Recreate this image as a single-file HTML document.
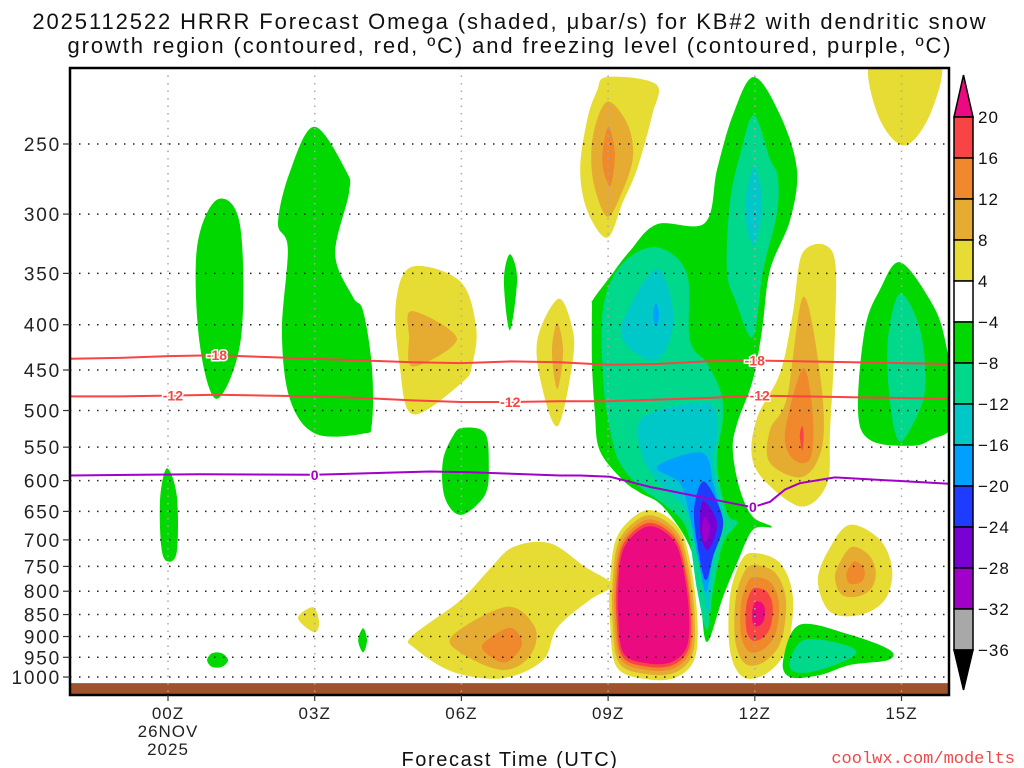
<!DOCTYPE html>
<html><head><meta charset="utf-8"><title>HRRR Omega time-height</title>
<style>
html,body{margin:0;padding:0;background:#fff;}
svg{display:block;font-family:"Liberation Sans",sans-serif;}
</style></head>
<body>
<svg id="chart" width="1024" height="768" viewBox="0 0 1024 768" xmlns="http://www.w3.org/2000/svg">
<text x="510" y="29" text-anchor="middle" font-size="22" letter-spacing="1.9" fill="#111">2025112522 HRRR Forecast Omega (shaded, μbar/s) for KB#2 with dendritic snow</text>
<text x="510" y="53" text-anchor="middle" font-size="22" letter-spacing="1.9" fill="#111">growth region (contoured, red, ºC) and freezing level (contoured, purple, ºC)</text>
<defs><clipPath id="plotclip"><rect x="70" y="68" width="879" height="627"/></clipPath></defs>
<g id="fields" clip-path="url(#plotclip)"></g>
<g id="grid"></g>
<g id="lines" clip-path="url(#plotclip)"></g>
<g id="axes"></g>
<g id="cbar"></g>
<text x="510" y="766" text-anchor="middle" font-size="20" letter-spacing="1.6" fill="#111">Forecast Time (UTC)</text>
<text x="1015" y="763" text-anchor="end" font-size="17" fill="#f04848" font-family="Liberation Mono, monospace">coolwx.com/modelts</text>
</svg>
<script>
const NS="http://www.w3.org/2000/svg";
// ---------- data ----------
const pressureTicks=[250,300,350,400,450,500,550,600,650,700,750,800,850,900,950,1000];
const hourTicks=[0,3,6,9,12,15];
const hourTickLabels=["00Z","03Z","06Z","09Z","12Z","15Z"];
const cbarLevels=[20,16,12,8,4,-4,-8,-12,-16,-20,-24,-28,-32,-36];
const cbarColors=["#f84444","#f0882c","#e6ac32","#e6dc34","#ffffff","#00d800","#00d88c","#00c8c8","#00a0ff","#1e3cff","#7800d2","#a000c8","#a8a8a8"];
const levelColor={"20":"#ec0a80","16":"#f84444","12":"#f0882c","8":"#e6ac32","4":"#e6dc34","-4":"#00d800","-8":"#00d88c","-12":"#00c8c8","-16":"#00a0ff","-20":"#1e3cff","-24":"#7800d2","-28":"#a000c8"};

// temperature contours (hour, hPa)
const dgzHours=[-2,-1,0,1,2,3,4,5,6,7,8,9,10,11,12,13,14,15,16];
const minus18P=[437,436,434,433,435,437,439,441,442,440,441,444,443,440,439,440,441,442,443];
const minus12P=[482,482,481,480,481,482,484,487,489,489,488,488,486,484,481,482,483,484,485];
const freezeHours=[-2,0.65,3,5.36,6.18,8.02,8.43,9.04,9.86,10.88,11.7,11.96,12.31,12.62,12.92,13.64,16];
const freezeP=[592,590,591,586,587,592,592,594,610,626,639,643,634,614,604,595,605];

// omega regions: [hour, hPa] polygons
const greenA=[[1.0,289],[1.47,308],[1.49,415],[1.0,485],[0.65,421],[0.59,328]];
const greenB=[[2.99,239],[3.64,268],[3.70,284],[3.42,333],[3.78,372],[3.99,386],[4.17,446],[4.17,517],[3.99,531],[3.01,531],[2.49,485],[2.33,408],[2.45,328],[2.25,307],[2.49,269]];
const greenC=[[-0.02,581],[0.18,624],[0.18,722],[-0.02,740],[-0.14,711],[-0.16,627]];
const greenD=[[0.8,957],[0.9,940],[1.1,940],[1.23,957],[1.1,974],[0.9,974]];
const yellowE=[[2.66,858],[2.97,834],[3.09,867],[2.99,890]];
const greenF=[[3.99,881],[4.07,909],[3.99,938],[3.89,909]];
const greenG=[[6.03,523],[6.48,530],[6.56,576],[6.48,623],[5.99,656],[5.66,627],[5.62,571],[5.83,534]];
const greenH=[[6.99,333],[7.14,355],[6.99,406],[6.87,357]];
const yellowI=[[4.99,344],[5.97,357],[6.30,402],[6.22,444],[6.01,465],[5.01,505],[4.74,446],[4.66,378]];
const goldI=[[4.99,386],[5.91,415],[5.01,446],[4.93,413]];
const yellowJ=[[7.98,374],[8.26,402],[8.28,438],[7.98,520],[7.67,476],[7.55,417]];
const goldJ=[[7.96,398],[8.08,429],[7.96,473],[7.85,429]];
const yellowK=[[8.98,210],[9.98,214],[9.90,232],[9.59,267],[9.30,291],[8.98,319],[8.57,297],[8.43,267],[8.57,235],[8.77,218]];
const goldK=[[8.98,224],[9.39,237],[9.51,258],[9.30,282],[8.98,302],[8.69,274],[8.69,245]];
const orangeK=[[9.0,239],[9.14,256],[9.04,279],[8.88,261]];
const yellowL=[[14.40,200],[15.75,200],[15.62,229],[15.07,251],[14.52,232]];
const greenM=[[8.69,375],[9.04,353],[9.45,330],[10.0,308],[10.98,307],[11.23,267],[11.55,232],[11.98,210],[12.52,232],[12.86,267],[12.72,305],[12.31,347],[12.15,405],[11.96,462],[11.64,517],[11.55,555],[11.70,615],[11.96,659],[12.35,677],[11.96,682],[11.64,743],[11.35,812],[11.02,913],[10.88,812],[10.67,713],[10.12,642],[9.65,619],[9.30,599],[8.83,555],[8.73,503],[8.67,442],[8.67,382]];
const tealM=[[8.90,382],[9.30,341],[10.0,327],[10.61,350],[10.67,416],[11.02,442],[11.29,474],[11.35,509],[11.23,573],[11.43,652],[11.64,670],[11.35,706],[11.15,797],[11.02,885],[10.82,797],[10.61,682],[10.20,642],[9.65,610],[9.24,573],[9.04,526],[8.90,462]];
const tealTower=[[11.98,232],[12.31,260],[12.47,272],[12.45,300],[12.17,347],[11.96,413],[11.60,375],[11.43,347],[11.49,291],[11.70,257]];
const cyanTower=[[11.98,265],[12.15,291],[11.98,326],[11.80,297]];
const cyanUpper=[[10.0,346],[10.33,386],[10.20,425],[9.86,439],[9.30,416],[9.39,387]];
const blueSpot=[[9.98,378],[10.04,390],[9.98,402],[9.92,390]];
const cyanLower=[[9.71,509],[11.02,490],[11.23,526],[11.15,573],[11.29,636],[11.35,670],[11.15,743],[11.04,847],[10.88,743],[10.61,652],[10.06,604],[9.71,564]];
const blueLower=[[10.0,579],[10.92,558],[11.15,604],[11.29,670],[11.12,743],[11.0,803],[10.84,737],[10.67,659],[10.47,604]];
const darkBlue=[[10.98,602],[11.35,665],[11.15,730],[10.98,776],[10.78,682],[10.78,633]];
const purpleCore=[[10.94,633],[11.23,670],[11.04,719],[10.88,682]];
const violetCore=[[10.98,659],[11.08,682],[10.98,705],[10.92,682]];
const yellowBig=[[4.99,899],[5.97,820],[6.58,755],[7.06,713],[7.81,706],[8.53,751],[9.08,787],[8.63,818],[7.96,880],[7.67,957],[6.85,1003],[5.83,987],[5.05,928]];
const goldBig=[[5.81,899],[6.93,833],[7.51,880],[7.40,947],[6.85,982],[6.03,942]];
const orangeBig=[[6.44,918],[6.99,880],[7.24,918],[6.93,962],[6.58,947]];
const pinkBlob=[[9.18,695],[9.65,652],[10.06,652],[10.47,682],[10.67,737],[10.82,847],[10.78,950],[10.41,1000],[9.80,1006],[9.18,975],[9.04,869],[9.04,777]];
const pinkLevels=[4,8,12,16,20];
const redBlob=[[11.96,724],[12.51,743],[12.78,812],[12.66,925],[12.25,990],[11.76,1000],[11.49,932],[11.49,812],[11.70,743]];
const redBlobLevels=[4,8,12,16,20];
const yellowN=[[12.99,331],[13.60,332],[13.64,405],[13.54,526],[13.48,604],[12.97,642],[12.25,604],[11.94,564],[12.05,509],[12.52,453],[12.78,388]];
const goldN=[[12.99,372],[13.33,453],[13.39,544],[12.99,594],[12.31,573],[12.31,526],[12.66,483]];
const orangeN=[[12.99,448],[13.19,509],[13.13,567],[12.78,567],[12.62,529]];
const redN=[[12.97,521],[13.0,533],[12.97,555],[12.92,533]];
const yellowO=[[13.95,673],[14.56,700],[14.81,757],[14.66,818],[14.15,851],[13.54,844],[13.29,777],[13.54,714]];
const yellowOLevels=[4,8,12];
const greenP=[[12.92,873],[13.95,896],[14.76,932],[14.72,957],[13.95,969],[13.33,995],[12.72,1000],[12.58,957]];
const tealP=[[13.03,907],[13.85,920],[14.05,945],[13.33,982],[12.82,987],[12.72,957]];
const greenQ=[[14.97,340],[15.58,375],[15.89,416],[16.1,512],[15.58,540],[15.17,548],[14.36,540],[14.11,500],[14.25,405],[14.56,365]];
const tealQ=[[14.97,369],[15.38,405],[15.48,474],[15.17,526],[14.93,540],[14.76,487],[14.72,416]];

// ---------- scales ----------
function X(h){return 168+h*48.9;}
function Y(p){return 144+384.5*Math.log(p/250);}
const plotL=70,plotR=949,plotT=68,plotB=695;

function smoothPath(pts){
  const n=pts.length;let d="M"+pts[0][0].toFixed(1)+","+pts[0][1].toFixed(1);
  for(let i=0;i<n;i++){
    const p0=pts[(i-1+n)%n],p1=pts[i],p2=pts[(i+1)%n],p3=pts[(i+2)%n];
    const c1x=p1[0]+(p2[0]-p0[0])/6,c1y=p1[1]+(p2[1]-p0[1])/6;
    const c2x=p2[0]-(p3[0]-p1[0])/6,c2y=p2[1]-(p3[1]-p1[1])/6;
    d+="C"+c1x.toFixed(1)+","+c1y.toFixed(1)+" "+c2x.toFixed(1)+","+c2y.toFixed(1)+" "+p2[0].toFixed(1)+","+p2[1].toFixed(1);
  }
  return d+"Z";
}
const fields=document.getElementById("fields");
function region(data,level,name,scale){
  let pts=data.map(d=>[X(d[0]),Y(d[1])]);
  if(scale!==undefined&&scale!==1){
    const cx=pts.reduce((a,b)=>a+b[0],0)/pts.length,cy=pts.reduce((a,b)=>a+b[1],0)/pts.length;
    pts=pts.map(q=>[cx+(q[0]-cx)*scale,cy+(q[1]-cy)*scale]);
  }
  const el=document.createElementNS(NS,"path");
  el.setAttribute("d",smoothPath(pts));
  el.setAttribute("fill",levelColor[String(level)]);
  
  
  fields.appendChild(el);
}
// ground
const ground=document.createElementNS(NS,"rect");
ground.setAttribute("x",plotL);ground.setAttribute("y",Y(1016));ground.setAttribute("width",plotR-plotL);ground.setAttribute("height",plotB-Y(1016));
ground.setAttribute("fill","#a0522d");


fields.appendChild(ground);

region(greenA,-4,"ascent-01z");
region(greenB,-4,"ascent-03z");
region(greenC,-4,"ascent-00z-low");
region(greenD,-4,"ascent-01z-sfc");
region(yellowE,4,"descent-03z-low");
region(greenF,-4,"ascent-04z-low");
region(greenG,-4,"ascent-06z-mid");
region(greenH,-4,"ascent-07z-sliver");
region(yellowI,4,"descent-05z");region(goldI,8,"descent-05z-core");
region(yellowJ,4,"descent-08z");region(goldJ,8,"descent-08z-core");
region(yellowK,4,"descent-09z-upper");region(goldK,8,"descent-09z-upper-8");region(orangeK,12,"descent-09z-upper-12");
region(yellowL,4,"descent-15z-upper");
region(greenM,-4,"ascent-main");
region(tealM,-8,"ascent-main-8");
region(tealTower,-8,"ascent-tower-8");
region(cyanTower,-12,"ascent-tower-12");
region(cyanUpper,-12,"ascent-main-12-upper");
region(blueSpot,-16,"ascent-main-16-spot");
region(cyanLower,-12,"ascent-main-12-lower");
region(blueLower,-16,"ascent-main-16");
region(darkBlue,-20,"ascent-main-20");
region(purpleCore,-24,"ascent-main-24");
region(violetCore,-28,"ascent-main-28");
region(yellowBig,4,"descent-07z-low");region(goldBig,8,"descent-07z-low-8");region(orangeBig,12,"descent-07z-low-12");
[1,0.94,0.89,0.85,0.81].forEach((s,i)=>region(pinkBlob,pinkLevels[i],"descent-10z-"+pinkLevels[i],s));
[1,0.8,0.6,0.42,0.2].forEach((s,i)=>region(redBlob,redBlobLevels[i],"descent-12z-"+redBlobLevels[i],s));
region(yellowN,4,"descent-13z");region(goldN,8,"descent-13z-8");region(orangeN,12,"descent-13z-12");region(redN,16,"descent-13z-16");
[1,0.55,0.25].forEach((s,i)=>region(yellowO,yellowOLevels[i],"descent-14z-"+yellowOLevels[i],s));
region(greenP,-4,"ascent-13z-low");region(tealP,-8,"ascent-13z-low-8");
region(greenQ,-4,"ascent-15z");region(tealQ,-8,"ascent-15z-8");

// ---------- grid ----------
const grid=document.getElementById("grid");
pressureTicks.forEach(p=>{
  const l=document.createElementNS(NS,"line");
  l.setAttribute("x1",plotL);l.setAttribute("x2",plotR);l.setAttribute("y1",Y(p));l.setAttribute("y2",Y(p));
  l.setAttribute("stroke","#222");l.setAttribute("stroke-width","1.5");l.setAttribute("stroke-dasharray","1.5 7.5");
  
  
  grid.appendChild(l);
});
hourTicks.forEach(h=>{
  const l=document.createElementNS(NS,"line");
  l.setAttribute("x1",X(h));l.setAttribute("x2",X(h));l.setAttribute("y1",plotT);l.setAttribute("y2",plotB);
  l.setAttribute("stroke","#aaa");l.setAttribute("stroke-width","1.5");l.setAttribute("stroke-dasharray","1.5 6");
  
  
  grid.appendChild(l);
});

// ---------- contour lines ----------
const lines=document.getElementById("lines");
function polyline(hs,ps,color,name){
  const pts=hs.map((h,i)=>X(h).toFixed(1)+","+Y(ps[i]).toFixed(1)).join(" ");
  const el=document.createElementNS(NS,"polyline");
  el.setAttribute("points",pts);el.setAttribute("fill","none");el.setAttribute("stroke",color);el.setAttribute("stroke-width","2");
  
  
  lines.appendChild(el);
}
function interp(hs,ps,h){for(let i=0;i<hs.length-1;i++){if(h>=hs[i]&&h<=hs[i+1]){const t=(h-hs[i])/(hs[i+1]-hs[i]);return ps[i]*(1-t)+ps[i+1]*t;}}return ps[ps.length-1];}
function clabel(hs,ps,h,txt,color,name){
  const x=X(h),y=Y(interp(hs,ps,h));
  const t=document.createElementNS(NS,"text");
  t.setAttribute("x",x);t.setAttribute("y",y+5);t.setAttribute("text-anchor","middle");t.setAttribute("font-size","14");t.setAttribute("font-weight","bold");t.setAttribute("fill",color);
  t.setAttribute("stroke","#fff");t.setAttribute("stroke-width","3");t.setAttribute("paint-order","stroke");
  t.textContent=txt;
  
  
  lines.appendChild(t);
}
polyline(dgzHours,minus18P,"#f84444","minus18-contour");
polyline(dgzHours,minus12P,"#f84444","minus12-contour");
polyline(freezeHours,freezeP,"#a000c8","freezing-level-contour");
clabel(dgzHours,minus18P,1.0,"-18","#f84444","minus18-label-1");
clabel(dgzHours,minus18P,12.0,"-18","#f84444","minus18-label-2");
clabel(dgzHours,minus12P,0.1,"-12","#f84444","minus12-label-1");
clabel(dgzHours,minus12P,7.0,"-12","#f84444","minus12-label-2");
clabel(dgzHours,minus12P,12.1,"-12","#f84444","minus12-label-3");
clabel(freezeHours,freezeP,3.0,"0","#a000c8","freezing-label-1");
clabel(freezeHours,freezeP,11.96,"0","#a000c8","freezing-label-2");

// ---------- axes ----------
const axes=document.getElementById("axes");
const frame=document.createElementNS(NS,"rect");
frame.setAttribute("x",plotL);frame.setAttribute("y",plotT);frame.setAttribute("width",plotR-plotL);frame.setAttribute("height",plotB-plotT);
frame.setAttribute("fill","none");frame.setAttribute("stroke","#000");frame.setAttribute("stroke-width","2.5");


axes.appendChild(frame);
pressureTicks.forEach(p=>{
  const tk=document.createElementNS(NS,"line");
  tk.setAttribute("x1",plotL-7);tk.setAttribute("x2",plotL);tk.setAttribute("y1",Y(p));tk.setAttribute("y2",Y(p));tk.setAttribute("stroke","#333");tk.setAttribute("stroke-width","1.2");
  
  
  axes.appendChild(tk);
  const t=document.createElementNS(NS,"text");
  t.setAttribute("x",plotL-9);t.setAttribute("y",Y(p)+7);t.setAttribute("text-anchor","end");t.setAttribute("font-size","19");t.setAttribute("letter-spacing","1.8");t.setAttribute("fill","#222");
  t.textContent=String(p);
  
  
  axes.appendChild(t);
});
hourTicks.forEach((h,i)=>{
  const tk=document.createElementNS(NS,"line");
  tk.setAttribute("x1",X(h));tk.setAttribute("x2",X(h));tk.setAttribute("y1",plotB);tk.setAttribute("y2",plotB+6);tk.setAttribute("stroke","#333");tk.setAttribute("stroke-width","1.2");
  
  
  axes.appendChild(tk);
  const t=document.createElementNS(NS,"text");
  t.setAttribute("x",X(h));t.setAttribute("y",719);t.setAttribute("text-anchor","middle");t.setAttribute("font-size","17");t.setAttribute("letter-spacing","1");t.setAttribute("fill","#222");
  t.textContent=hourTickLabels[i];
  
  
  axes.appendChild(t);
});
["26NOV","2025"].forEach((s,i)=>{
  const t=document.createElementNS(NS,"text");
  t.setAttribute("x",X(0));t.setAttribute("y",737+i*18);t.setAttribute("text-anchor","middle");t.setAttribute("font-size","17");t.setAttribute("letter-spacing","1");t.setAttribute("fill","#222");
  t.textContent=s;
  
  
  axes.appendChild(t);
});

// ---------- colorbar ----------
const cbar=document.getElementById("cbar");
const cbX=954,cbW=19,cbTop=117,cbStep=41;
function cbEl(tag,attrs,name){const e=document.createElementNS(NS,tag);for(const k in attrs)e.setAttribute(k,attrs[k]);

cbar.appendChild(e);return e;}
cbEl("polygon",{points:`${cbX},${cbTop} ${cbX+cbW},${cbTop} ${cbX+cbW/2},75`,fill:"#ec0a80",stroke:"#000","stroke-width":"1.5"},"colorbar-max-arrow");
cbarColors.forEach((c,i)=>{cbEl("rect",{x:cbX,y:cbTop+i*cbStep,width:cbW,height:cbStep,fill:c,stroke:"#000","stroke-width":"1.5"},"colorbar-swatch");});
const cbBot=cbTop+cbarColors.length*cbStep;
cbEl("polygon",{points:`${cbX},${cbBot} ${cbX+cbW},${cbBot} ${cbX+cbW/2},690`,fill:"#000",stroke:"#000","stroke-width":"1.5"},"colorbar-min-arrow");
cbarLevels.forEach((v,i)=>{
  const t=cbEl("text",{x:978,y:cbTop+i*cbStep+6,"font-size":"17","letter-spacing":"1",fill:"#111"},"colorbar-label");
  t.textContent=v<0?"\u2212"+Math.abs(v):String(v);
});
</script>
</body></html>
